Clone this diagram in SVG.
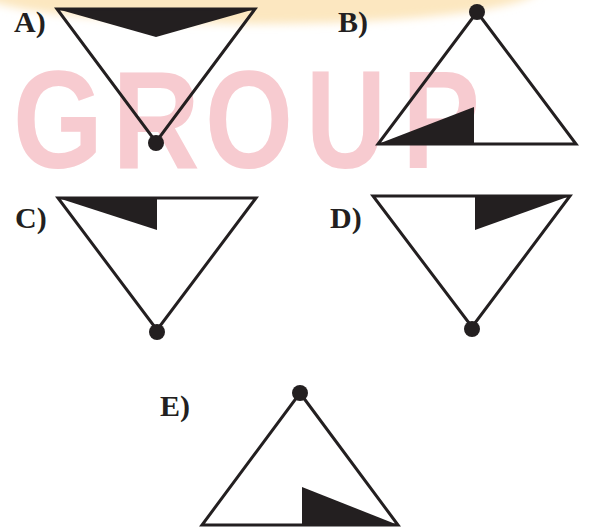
<svg xmlns="http://www.w3.org/2000/svg" width="592" height="530" viewBox="0 0 592 530">
<defs>
<style>
.tri{fill:none;stroke:#231f20;stroke-width:3;stroke-linejoin:miter}
.blk{fill:#231f20}
.lbl{font-family:"Liberation Serif","Times New Roman",serif;font-weight:bold;font-size:30px;fill:#231f20}
.wm{font-family:"Liberation Sans",Arial,sans-serif;font-weight:bold;font-size:140px;fill:#f7cbd0}
</style>
<filter id="soft" x="-10%" y="-50%" width="120%" height="200%">
<feGaussianBlur stdDeviation="4"/>
</filter>
</defs>
<rect width="592" height="530" fill="#ffffff"/>
<g id="watermark">
<ellipse cx="255" cy="-12" rx="285" ry="36" fill="#fce7c0" filter="url(#soft)"/>
<text class="wm" x="13" y="168" textLength="90" lengthAdjust="spacingAndGlyphs">G</text>
<text class="wm" x="112" y="168" textLength="88" lengthAdjust="spacingAndGlyphs">R</text>
<text class="wm" x="205" y="168" textLength="88" lengthAdjust="spacingAndGlyphs">O</text>
<text class="wm" x="306" y="168" textLength="80" lengthAdjust="spacingAndGlyphs">U</text>
<text class="wm" x="402" y="168" textLength="78" lengthAdjust="spacingAndGlyphs">P</text>
</g>
<g id="optA">
<polygon class="blk" points="57,9 255,9 156,37"/>
<polygon class="tri" points="57,9 255,9 156,142"/>
<circle class="blk" cx="156" cy="143" r="8"/>
<text class="lbl" x="14" y="32">A)</text>
</g>
<g id="optB">
<polygon class="blk" points="378,144 474,107 474,144"/>
<polygon class="tri" points="477,12 576,144 378,144"/>
<circle class="blk" cx="477" cy="12" r="8"/>
<text class="lbl" x="338" y="32">B)</text>
</g>
<g id="optC">
<polygon class="blk" points="58,198 157,198 157,230"/>
<polygon class="tri" points="58,198 256,198 157,330"/>
<circle class="blk" cx="157" cy="332" r="8"/>
<text class="lbl" x="15" y="228">C)</text>
</g>
<g id="optD">
<polygon class="blk" points="475,196 570,196 475,230"/>
<polygon class="tri" points="373,196 570,196 472,327"/>
<circle class="blk" cx="472" cy="329" r="8"/>
<text class="lbl" x="330" y="228">D)</text>
</g>
<g id="optE">
<polygon class="blk" points="302,487 302,525 398,525"/>
<polygon class="tri" points="300,393 398,525 202,525"/>
<circle class="blk" cx="300" cy="393" r="8"/>
<text class="lbl" x="160" y="416">E)</text>
</g>
</svg>
